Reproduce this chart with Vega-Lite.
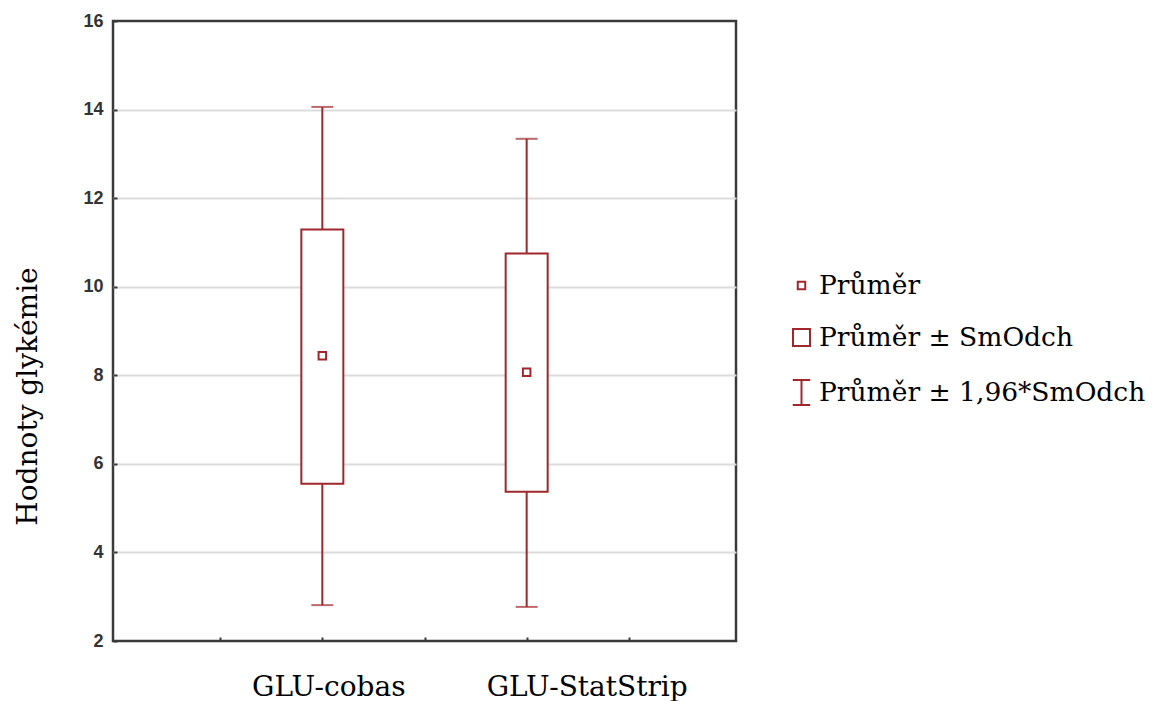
{
  "$schema": "https://vega.github.io/schema/vega-lite/v6.json",
  "width": 623,
  "height": 620,
  "autosize": {"type": "none"},
  "padding": {"left": 113, "top": 21, "right": 416, "bottom": 60},
  "background": "white",
  "config": {
    "view": {"stroke": "#3a3a3a", "strokeWidth": 2.5},
    "axis": {"domain": false, "grid": false}
  },
  "data": {
    "values": [
      {"group": "GLU-cobas", "pos": 1, "mean": 8.44, "sdLow": 5.55, "sdHigh": 11.29, "ciLow": 2.81, "ciHigh": 14.06, "stat": "Průměr"},
      {"group": "GLU-StatStrip", "pos": 2, "mean": 8.07, "sdLow": 5.37, "sdHigh": 10.75, "ciLow": 2.77, "ciHigh": 13.34, "stat": "Průměr"}
    ]
  },
  "encoding": {
    "x": {
      "field": "pos", "type": "quantitative",
      "scale": {"domain": [0, 3], "nice": false, "zero": false},
      "axis": {
        "title": null,
        "values": [0.5, 1, 1.5, 2, 2.5],
        "tickSize": -4, "tickWidth": 2, "tickColor": "#3a3a3a",
        "labelExpr": "datum.value == 1 ? 'GLU-cobas' : datum.value == 2 ? 'GLU-StatStrip' : ''",
        "labelFont": "DejaVu Serif", "labelFontSize": 28, "labelColor": "#000000",
        "labelPadding": 58, "labelBaseline": "alphabetic",
        "labelLimit": 400, "labelOverlap": false, "labelFlush": false,
        "labelOffset": {"condition": {"test": "datum.value == 2", "value": 60}, "value": 6}
      }
    }
  },
  "layer": [
    {
      "mark": {"type": "rule", "color": "#a0282d", "strokeWidth": 2},
      "encoding": {
        "y": {
          "field": "ciLow", "type": "quantitative",
          "scale": {"domain": [2, 16], "nice": false, "zero": false},
          "axis": {
            "values": [2, 4, 6, 8, 10, 12, 14, 16],
            "grid": true, "gridColor": "#dcdcdc", "gridWidth": 2,
            "gridOpacity": {"condition": {"test": "datum.value == 2 || datum.value == 16", "value": 0}, "value": 1},
            "tickSize": -4, "tickWidth": 2, "tickColor": "#3a3a3a",
            "labelFont": "Liberation Sans", "labelFontSize": 18, "labelFontWeight": "bold", "labelColor": "#333333",
            "labelPadding": 14,
            "title": "Hodnoty glykémie",
            "titleFont": "DejaVu Serif", "titleFontSize": 28, "titleFontWeight": "normal", "titleColor": "#000000",
            "titleX": -85, "titleY": 375, "titleAngle": -90, "titleAlign": "center", "titleBaseline": "middle"
          }
        },
        "y2": {"field": "ciHigh"}
      }
    },
    {
      "mark": {"type": "tick", "orient": "horizontal", "color": "#a0282d", "size": 22, "thickness": 2},
      "encoding": {"y": {"field": "ciLow", "type": "quantitative"}}
    },
    {
      "mark": {"type": "tick", "orient": "horizontal", "color": "#a0282d", "size": 22, "thickness": 2},
      "encoding": {"y": {"field": "ciHigh", "type": "quantitative"}}
    },
    {
      "mark": {"type": "bar", "orient": "vertical", "width": 42, "fill": "white", "stroke": "#a0282d", "strokeWidth": 2},
      "encoding": {
        "y": {"field": "sdLow", "type": "quantitative"},
        "y2": {"field": "sdHigh"}
      }
    },
    {
      "mark": {"type": "point", "filled": false, "color": "#a0282d", "strokeWidth": 2, "size": 625, "opacity": 1},
      "encoding": {
        "y": {"field": "mean", "type": "quantitative"},
        "shape": {
          "field": "stat", "type": "nominal",
          "scale": {
            "domain": ["Průměr", "Průměr ± SmOdch", "Průměr ± 1,96*SmOdch"],
            "range": [
              "M-0.3,-0.3H0.3V0.3H-0.3Z",
              "M-0.68,-0.68H0.68V0.68H-0.68Z",
              "M-0.7,-1H0.7M0,-1V1M-0.7,1H0.7"
            ]
          },
          "legend": {
            "title": null,
            "orient": "none",
            "legendX": 675,
            "legendY": 251,
            "padding": 0,
            "symbolSize": 625,
            "symbolStrokeWidth": 2,
            "symbolStrokeColor": "#a0282d",
            "symbolFillColor": "transparent",
            "labelFont": "DejaVu Serif",
            "labelFontSize": 26.5,
            "labelColor": "#000000",
            "labelOffset": 4,
            "labelLimit": 400,
            "rowPadding": 25
          }
        }
      }
    }
  ]
}
